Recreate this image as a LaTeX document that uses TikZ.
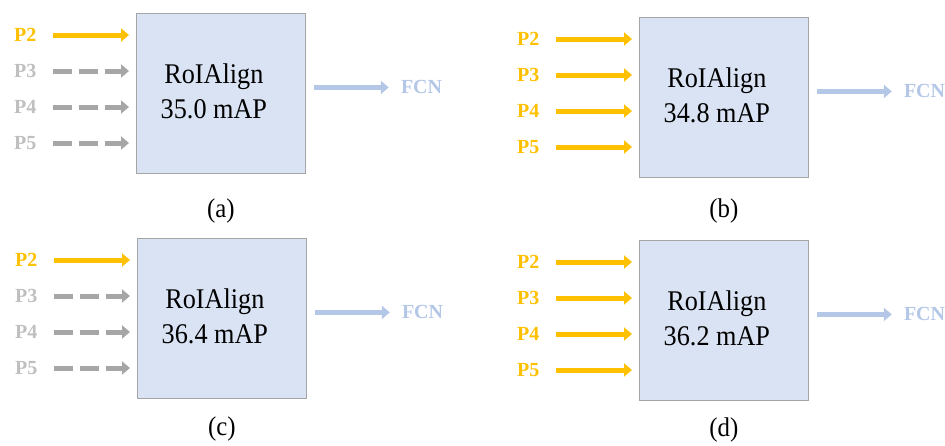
\documentclass[tikz,border=0pt]{standalone}
\usepackage{fontspec}
\setmainfont{Liberation Serif}
\newfontfamily\boxfont[FakeStretch=0.92]{Liberation Serif}
\usetikzlibrary{arrows.meta}

\definecolor{lvlon}{HTML}{FFC000}
\definecolor{lvloff}{HTML}{BFBFBF}
\definecolor{arroff}{HTML}{A6A6A6}
\definecolor{fcnblue}{HTML}{B4C7E7}
\definecolor{boxfill}{HTML}{DAE3F3}
\definecolor{boxline}{HTML}{A5A5A5}

\tikzset{
  roibox/.style={draw=boxline, line width=0.8pt, fill=boxfill,
    minimum width=169pt, minimum height=160pt, inner sep=0pt, anchor=north west},
  boxtext/.style={font=\boxfont\fontsize{28.5}{35}\selectfont, align=center, inner sep=0pt},
  lvl/.style={font=\bfseries\fontsize{20}{22}\selectfont, inner sep=0pt, anchor=west},
  lvlonlabel/.style={lvl, text=lvlon},
  lvlofflabel/.style={lvl, text=lvloff},
  feat/.style={line width=5pt, -{Triangle[length=8pt,width=13pt]}, shorten >=7pt},
  featon/.style={feat, draw=lvlon},
  featoff/.style={feat, draw=arroff, dash pattern=on 19.5pt off 6.5pt},
  fcnlabel/.style={font=\bfseries\fontsize{20}{22}\selectfont, text=fcnblue, inner sep=0pt, anchor=west},
  fcnarrow/.style={line width=5pt, draw=fcnblue, -{Triangle[length=8pt,width=13pt]},
    shorten <=8pt, shorten >=12pt},
  caption/.style={font=\boxfont\fontsize{27}{30}\selectfont, inner sep=0pt},
}

% #1 id, #2 box x, #3 box y, #4 mAP value, #5 style of P3-P5 arrows,
% #6 style of P3-P5 labels, #7 caption y, #8 caption letter
\newcommand\roipanel[8]{%
  \node[roibox] (box#1) at (#2,#3) {};
  \node[boxtext] (txt#1) at ([shift={(-7,-2)}]box#1.center) {RoIAlign\\#4 mAP};
  \node[lvlonlabel] (p#12) at ([shift={(-122,22)}]box#1.north west) {P2};
  \draw[featon] ([xshift=16pt]p#12.east) -- (p#12.east -| box#1.west);
  \foreach \k/\dy in {3/58,4/94,5/130} {
    \node[#6] (p#1\k) at ([shift={(-122,\dy)}]box#1.north west) {P\k};
    \draw[#5] ([xshift=16pt]p#1\k.east) -- (p#1\k.east -| box#1.west);
  }
  \node[fcnlabel] (fcn#1) at ([shift={(95,-6)}]box#1.east) {FCN};
  \draw[fcnarrow] (box#1.east |- fcn#1.west) -- (fcn#1.west);
  \node[caption] (cap#1) at (box#1.south |- 0,#7) {(#8)};
}

\begin{document}
\begin{tikzpicture}[x=1pt, y=-1pt]
  \useasboundingbox (0,0) rectangle (945,445);
  \roipanel{a}{136}{13}{35.0}{featoff}{lvlofflabel}{211}{a}
  \roipanel{b}{639}{17}{34.8}{featon}{lvlonlabel}{211}{b}
  \roipanel{c}{137}{238}{36.4}{featoff}{lvlofflabel}{429}{c}
  \roipanel{d}{639}{240}{36.2}{featon}{lvlonlabel}{430}{d}
\end{tikzpicture}
\end{document}
